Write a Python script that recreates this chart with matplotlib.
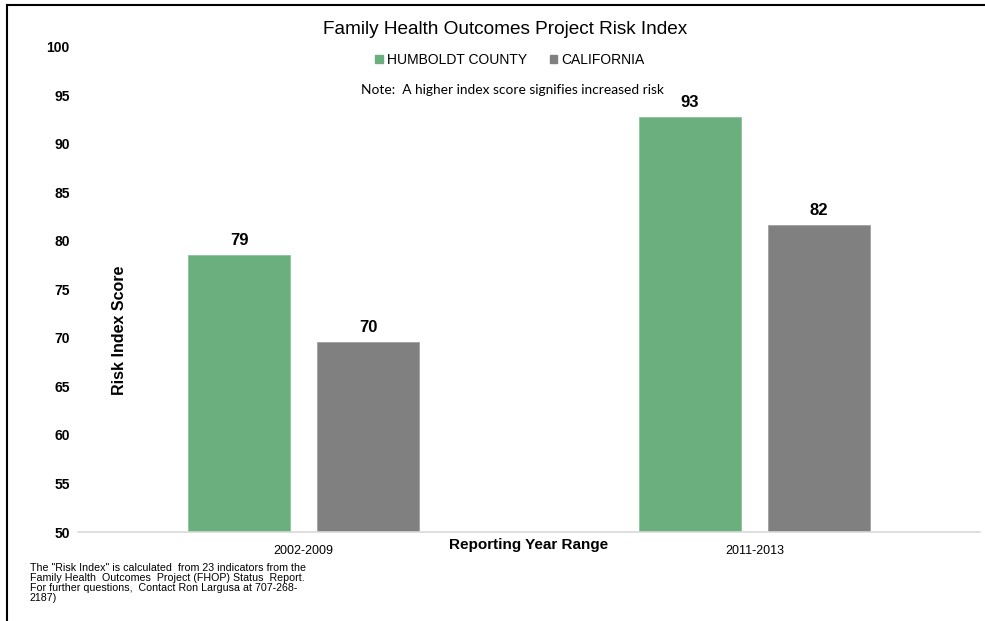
import matplotlib
matplotlib.use("Agg")
import matplotlib.pyplot as plt
from matplotlib.lines import Line2D
from matplotlib.patches import Patch

periods = ["2002-2009", "2011-2013"]
humboldt = [78.6, 92.8]
california = [69.6, 81.7]
humboldt_labels = ["79", "93"]
california_labels = ["70", "82"]

GREEN = "#6baf7e"
GREY = "#808080"
FONT = "Liberation Sans"

W, H = 985, 621
fig = plt.figure(figsize=(W / 100, H / 100), dpi=100)
ax = fig.add_axes([78 / W, (H - 532) / H, (980 - 78) / W, (532 - 47) / H])

x = list(range(len(periods)))
off, width = 0.143, 0.224
ax.bar([i - off for i in x], [v - 50 for v in humboldt], width, bottom=50,
       color=GREEN, edgecolor="#8cc49b", linewidth=0.6, zorder=2)
ax.bar([i + off for i in x], [v - 50 for v in california], width, bottom=50,
       color=GREY, edgecolor="#a0a0a0", linewidth=0.6, zorder=2)

for i in x:
    ax.annotate(humboldt_labels[i], (i - off, humboldt[i]), xytext=(0, 5),
                textcoords="offset points", ha="center", va="bottom",
                fontsize=12, fontweight="bold", family=FONT)
    ax.annotate(california_labels[i], (i + off, california[i]), xytext=(0, 5),
                textcoords="offset points", ha="center", va="bottom",
                fontsize=12, fontweight="bold", family=FONT)

ax.set_xlim(-0.5, 1.5)
ax.set_ylim(50, 100)
ax.set_yticks(range(50, 101, 5))
ax.set_xticks(x)
ax.set_xticklabels(periods, fontsize=9, family=FONT)
for lab in ax.get_yticklabels():
    lab.set_fontweight("bold")
    lab.set_fontsize(10)
    lab.set_family(FONT)
ax.tick_params(length=0)
ax.tick_params(axis="y", pad=6)
ax.tick_params(axis="x", pad=9)
for s in ["top", "right", "left"]:
    ax.spines[s].set_visible(False)
ax.spines["bottom"].set_color("#d9d9d9")
ax.spines["bottom"].set_linewidth(1.2)

fig.text(505 / W, 1 - 30 / H, "Family Health Outcomes Project Risk Index",
         ha="center", va="center", fontsize=13.7, family=FONT)
handles = [Patch(color=GREEN), Patch(color=GREY)]
fig.legend(handles, ["HUMBOLDT COUNTY", "CALIFORNIA"], loc="center",
           bbox_to_anchor=(510 / W, 1 - 60 / H), ncol=2, frameon=False,
           handlelength=0.55, handleheight=0.55, handletextpad=0.3,
           columnspacing=1.6, prop={"family": FONT, "size": 10})
fig.text(512 / W, 1 - 90 / H, "Note:  A higher index score signifies increased risk",
         ha="center", va="center", fontsize=9.9, family="Lato")

fig.text(120 / W, 1 - 330 / H, "Risk Index Score", rotation=90, ha="center",
         va="center", fontsize=11.5, fontweight="bold", family=FONT)
fig.text(529 / W, 1 - 545 / H, "Reporting Year Range", ha="center", va="center",
         fontsize=11, fontweight="bold", family=FONT)

fig.text(30 / W, 1 - 563 / H,
         'The "Risk Index" is calculated  from 23 indicators from the\n'
         'Family Health  Outcomes  Project (FHOP) Status  Report.\n'
         'For further questions,  Contact Ron Largusa at 707-268-\n'
         '2187)',
         ha="left", va="top", fontsize=7.7, family=FONT, linespacing=1.02)

# screenshot frame on the left and top
fig.add_artist(Line2D([7 / W, 7 / W], [0, 1 - 5 / H], color="black", lw=1.5))
fig.add_artist(Line2D([7 / W, 1], [1 - 5 / H, 1 - 5 / H], color="black", lw=1.5))

fig.savefig("out.png", dpi=100)
